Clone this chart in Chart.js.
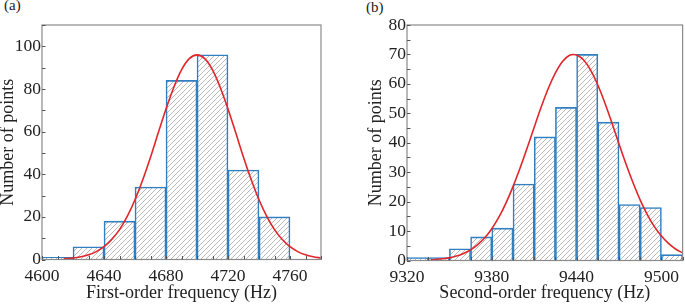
<!DOCTYPE html>
<html>
<head>
<meta charset="utf-8">
<script src="https://cdn.jsdelivr.net/npm/chart.js@4.4.1/dist/chart.umd.min.js"></script>
<style>
  body { margin: 0; background: #fff; width: 685px; height: 304px; position: relative; overflow: hidden; }
  .panel { position: absolute; top: 0; height: 304px; }
  #wrapA { left: 0; width: 342px; }
  #wrapB { left: 345px; width: 340px; }
  .tag { position: absolute; font-family: 'Liberation Serif', serif; font-size: 15px; color: #222; }
</style>
</head>
<body>
<div class="tag" style="left:4px;top:-3px;">(a)</div>
<div class="tag" style="left:366px;top:-1px;">(b)</div>
<div class="panel" id="wrapA"><canvas id="chartA"></canvas></div>
<div class="panel" id="wrapB"><canvas id="chartB"></canvas></div>
<script>
// (a) first-order histogram, 20 Hz bins (centres)
const binsA = [4610, 4630, 4650, 4670, 4690, 4710, 4730, 4750];
const countsA = [1, 6, 18, 34, 84, 96, 42, 20];
// (a) fitted curve
const fitXA = [4614, 4620, 4625, 4630, 4635, 4640, 4645, 4650, 4655, 4660, 4665, 4670, 4675, 4680, 4685, 4690, 4695, 4700,
               4705, 4710, 4715, 4720, 4725, 4730, 4735, 4740, 4745, 4750, 4755, 4760, 4765, 4770, 4775, 4780];
const fitYA = [0.3, 0.7, 1.3, 2.2, 3.7, 6.0, 9.4, 14.0, 20.2, 28.0, 37.4, 48.0, 59.4, 70.6, 80.7, 88.9, 94.2, 96,
               94.2, 88.9, 80.7, 70.6, 59.4, 48.0, 37.4, 28.0, 20.2, 14.0, 9.4, 6.0, 3.7, 2.2, 1.3, 0.7];
const xTicksA = [4600, 4640, 4680, 4720, 4760];
const yTicksA = [0, 20, 40, 60, 80, 100];

// (b) second-order histogram, 15 Hz bins (centres)
const binsB = [9327.5, 9342.5, 9357.5, 9372.5, 9387.5, 9402.5, 9417.5, 9432.5, 9447.5, 9462.5, 9477.5, 9492.5, 9507.5];
const countsB = [1, 1, 4, 8, 11, 26, 42, 52, 70, 47, 19, 18, 2];
const fitXB = [9337, 9340, 9345, 9350, 9355, 9360, 9365, 9370, 9375, 9380, 9385, 9390, 9395, 9400, 9405, 9410, 9415, 9420,
               9425, 9430, 9435, 9438, 9440, 9445, 9450, 9455, 9460, 9465, 9470, 9475, 9480, 9485, 9490, 9495, 9500, 9505, 9510, 9515];
const fitYB = [0.2, 0.3, 0.6, 0.9, 1.5, 2.4, 3.6, 5.4, 7.7, 10.8, 14.7, 19.5, 25.1, 31.4, 38.2, 45.3, 52.2, 58.5,
               63.7, 67.6, 69.7, 70, 69.8, 68.1, 64.6, 59.6, 53.5, 46.7, 39.6, 32.7, 26.3, 20.5, 15.6, 11.5, 8.3, 5.8, 3.9, 2.6];
const xTicksB = [9320, 9380, 9440, 9500];
const yTicksB = [0, 10, 20, 30, 40, 50, 60, 70, 80];

const FONT = 'Liberation Serif';
const BLUE = '#2f7fc1';
const RED = '#e0262b';
const FRAME = '#8a8a8a';

function makeHatch() {
    const c = document.createElement('canvas');
    c.width = 5; c.height = 5;
    const g = c.getContext('2d');
    g.fillStyle = '#fff';
    g.fillRect(0, 0, 5, 5);
    g.strokeStyle = '#8c8c8c';
    g.lineWidth = 0.6;
    g.beginPath();
    g.moveTo(-1, 6); g.lineTo(6, -1);
    g.moveTo(-1, 1); g.lineTo(1, -1);
    g.moveTo(4, 6); g.lineTo(6, 4);
    g.stroke();
    return g.createPattern(c, 'repeat');
}

// frame + inward tick marks
const framePlugin = {
    id: 'frame',
    afterDatasetsDraw(chart, args, opts) {
        const { ctx, chartArea: a, scales } = chart;
        ctx.save();
        ctx.strokeStyle = FRAME;
        ctx.lineWidth = 1.2;
        ctx.strokeRect(a.left, a.top, a.right - a.left, a.bottom - a.top);
        ctx.strokeStyle = '#555';
        ctx.lineWidth = 1;
        ctx.beginPath();
        for (let v = scales.x.min; v <= scales.x.max; v += opts.xStep) {
            const px = Math.round(scales.x.getPixelForValue(v)) + 0.5;
            ctx.moveTo(px, a.bottom);
            ctx.lineTo(px, a.bottom - 3.5);
        }
        for (let v = scales.y.min; v <= scales.y.max; v += opts.yStep) {
            const py = Math.round(scales.y.getPixelForValue(v)) + 0.5;
            ctx.moveTo(a.left, py);
            ctx.lineTo(a.left + 3.5, py);
        }
        ctx.stroke();
        ctx.restore();
    }
};

function buildChart(id, cfg) {
    const hatch = makeHatch();
    return new Chart(document.getElementById(id), {
        type: 'bar',
        data: {
            datasets: [{
                type: 'line',
                data: cfg.fitX.map((x, i) => ({ x: x, y: cfg.fitY[i] })),
                borderColor: RED,
                borderWidth: 1.6,
                pointRadius: 0,
                cubicInterpolationMode: 'monotone',
                order: 0
            }, {
                type: 'bar',
                data: cfg.bins.map((x, i) => ({ x: x, y: cfg.counts[i] })),
                backgroundColor: hatch,
                borderColor: BLUE,
                borderWidth: 1.6,
                barPercentage: 1,
                categoryPercentage: 1,
                order: 1
            }]
        },
        options: {
            responsive: true,
            maintainAspectRatio: false,
            animation: false,
            layout: { padding: { left: 0, top: 25, right: cfg.padRight, bottom: 0 } },
            plugins: {
                legend: { display: false },
                tooltip: { enabled: false },
                frame: { xStep: cfg.xStep, yStep: cfg.yStep }
            },
            scales: {
                x: {
                    type: 'linear',
                    offset: false,
                    min: cfg.xMin,
                    max: cfg.xMax,
                    grid: { display: false, drawTicks: false },
                    border: { display: false },
                    afterBuildTicks: s => { s.ticks = cfg.xTicks.map(v => ({ value: v })); },
                    afterFit: s => { s.height = cfg.xHeight; },
                    ticks: {
                        color: '#222',
                        padding: 6,
                        maxRotation: 0,
                        font: { family: FONT, size: 17.5 },
                        callback: v => String(v)
                    },
                    title: {
                        display: true,
                        text: cfg.xTitle,
                        color: '#222',
                        padding: { top: 0, bottom: 2 },
                        font: { family: FONT, size: 18, lineHeight: 1 }
                    }
                },
                y: {
                    min: 0,
                    max: cfg.yMax,
                    grid: { display: false, drawTicks: false },
                    border: { display: false },
                    afterBuildTicks: s => { s.ticks = cfg.yTicks.map(v => ({ value: v })); },
                    afterFit: s => { s.width = cfg.yWidth; },
                    ticks: {
                        color: '#222',
                        padding: 1,
                        font: { family: FONT, size: 17.5 },
                        callback: v => String(v)
                    },
                    title: {
                        display: true,
                        text: 'Number of points',
                        color: '#222',
                        padding: { top: cfg.yTitlePad, bottom: 0 },
                        font: { family: FONT, size: 18, lineHeight: 1 }
                    }
                }
            }
        },
        plugins: [framePlugin]
    });
}

buildChart('chartA', {
    bins: binsA, counts: countsA, fitX: fitXA, fitY: fitYA,
    xTicks: xTicksA, yTicks: yTicksA,
    xMin: 4600, xMax: 4780, yMax: 110, xStep: 10, yStep: 10,
    xTitle: 'First-order frequency (Hz)',
    padRight: 21, yWidth: 42, xHeight: 44.5, yTitlePad: -1
});

buildChart('chartB', {
    bins: binsB, counts: countsB, fitX: fitXB, fitY: fitYB,
    xTicks: xTicksB, yTicks: yTicksB,
    xMin: 9320, xMax: 9515, yMax: 80, xStep: 15, yStep: 5,
    xTitle: 'Second-order frequency (Hz)',
    padRight: 1, yWidth: 62, xHeight: 43.5, yTitlePad: 22
});
</script>
</body>
</html>
